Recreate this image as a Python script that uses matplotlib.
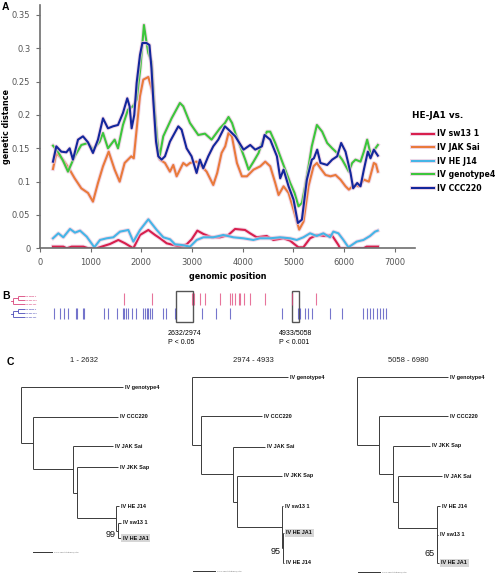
import matplotlib
matplotlib.use("Agg")
import matplotlib.pyplot as plt
import matplotlib.patheffects as pe
from matplotlib.patches import Rectangle

# ---- panel A: sliding window genetic distance vs HE-JA1 ----
red_pos = [256, 460, 526, 625, 855, 954, 1118, 1217, 1382, 1546, 1678, 1842, 1974, 2138, 2270, 2368, 2500,
           2632, 2763, 2895, 2993, 3105, 3224, 3388, 3553, 3717, 3849, 4046, 4145, 4276, 4474, 4605, 4803,
           4934, 5099, 5197, 5329, 5461, 5625, 5757, 5888, 5921, 6382, 6447, 6670]
red_val = [0.0025, 0.0025, 0, 0.0025, 0.0025, 0, 0, 0.0025, 0.0065, 0.0125, 0.0075, 0, 0.020, 0.0275, 0.020,
           0.015, 0.0075, 0.005, 0.0025, 0.006, 0.0135, 0.0265, 0.0215, 0.0165, 0.0165, 0.020, 0.029, 0.0275,
           0.0225, 0.0165, 0.0185, 0.0125, 0.015, 0.0115, 0.0015, 0.0015, 0.015, 0.020, 0.0185, 0.020, 0.005,
           0, 0, 0.0025, 0.0025]

orange_pos = [256, 322, 453, 585, 684, 815, 947, 1045, 1144, 1243, 1355, 1473, 1572, 1670, 1801, 1850, 1972,
              2038, 2137, 2202, 2235, 2270, 2301, 2367, 2466, 2564, 2630, 2696, 2827, 2893, 2959, 3090, 3189,
              3288, 3419, 3497, 3583, 3655, 3720, 3787, 3886, 3984, 4083, 4214, 4346, 4445, 4543, 4642, 4708,
              4806, 4905, 5003, 5115, 5200, 5298, 5397, 5464, 5535, 5634, 5733, 5832, 5930, 6029, 6095, 6194,
              6292, 6391, 6489, 6588, 6630, 6667]
orange_val = [0.119, 0.143, 0.133, 0.118, 0.105, 0.090, 0.083, 0.070, 0.098, 0.123, 0.145, 0.118, 0.100, 0.128,
              0.138, 0.135, 0.228, 0.253, 0.257, 0.240, 0.228, 0.190, 0.158, 0.133, 0.128, 0.115, 0.125, 0.108,
              0.128, 0.124, 0.128, 0.130, 0.123, 0.115, 0.095, 0.113, 0.143, 0.153, 0.173, 0.168, 0.128, 0.108,
              0.108, 0.118, 0.123, 0.130, 0.123, 0.098, 0.080, 0.093, 0.083, 0.058, 0.028, 0.040, 0.093, 0.123,
              0.128, 0.120, 0.110, 0.108, 0.110, 0.103, 0.093, 0.088, 0.095, 0.093, 0.103, 0.100, 0.128, 0.126,
              0.115]

cyan_pos = [256, 362, 460, 592, 690, 790, 921, 1072, 1184, 1316, 1447, 1579, 1743, 1842, 1974, 2138, 2303,
            2434, 2566, 2664, 2796, 2961, 3092, 3224, 3421, 3618, 3816, 4013, 4210, 4342, 4539, 4737, 4934,
            5066, 5197, 5329, 5461, 5592, 5724, 5789, 5888, 5987, 6086, 6250, 6382, 6513, 6612, 6664]
cyan_val = [0.015, 0.0225, 0.0165, 0.029, 0.0235, 0.0265, 0.0175, 0.0015, 0.0125, 0.015, 0.0165, 0.025, 0.0275,
            0.010, 0.0275, 0.0435, 0.0275, 0.0165, 0.0135, 0.006, 0.005, 0.0025, 0.0125, 0.0165, 0.0165, 0.020,
            0.0165, 0.015, 0.0125, 0.015, 0.015, 0.0165, 0.015, 0.0125, 0.0165, 0.0225, 0.0185, 0.0225, 0.0165,
            0.025, 0.0225, 0.0125, 0.0015, 0.010, 0.0125, 0.0185, 0.025, 0.0265]

green_pos = [256, 355, 450, 552, 684, 815, 947, 1045, 1177, 1243, 1341, 1473, 1539, 1637, 1736, 1834, 1907,
             1980, 2051, 2100, 2137, 2203, 2260, 2310, 2354, 2432, 2597, 2761, 2827, 2959, 3123, 3255, 3386,
             3550, 3650, 3720, 3790, 3853, 3951, 4050, 4116, 4214, 4313, 4379, 4477, 4543, 4642, 4740, 4839,
             4937, 5023, 5101, 5168, 5232, 5311, 5363, 5464, 5568, 5667, 5766, 5864, 5963, 6095, 6160, 6226,
             6325, 6391, 6456, 6535, 6600, 6667]
green_val = [0.154, 0.145, 0.132, 0.115, 0.138, 0.155, 0.158, 0.148, 0.160, 0.173, 0.150, 0.163, 0.150, 0.185,
             0.208, 0.213, 0.223, 0.270, 0.335, 0.310, 0.293, 0.280, 0.210, 0.165, 0.135, 0.168, 0.195, 0.218,
             0.213, 0.188, 0.170, 0.172, 0.163, 0.180, 0.188, 0.197, 0.188, 0.173, 0.153, 0.133, 0.118, 0.130,
             0.143, 0.158, 0.175, 0.175, 0.158, 0.138, 0.118, 0.098, 0.083, 0.063, 0.068, 0.093, 0.128, 0.153,
             0.185, 0.175, 0.158, 0.150, 0.143, 0.133, 0.115, 0.128, 0.133, 0.130, 0.145, 0.163, 0.138, 0.148,
             0.155]

blue_pos = [256, 322, 420, 519, 585, 650, 750, 848, 947, 1045, 1144, 1243, 1341, 1440, 1539, 1637, 1722, 1768,
            1808, 1860, 1907, 1973, 2020, 2100, 2160, 2200, 2235, 2290, 2334, 2400, 2466, 2564, 2729, 2794,
            2893, 2991, 3090, 3156, 3222, 3320, 3419, 3518, 3649, 3720, 3853, 4017, 4149, 4247, 4379, 4431,
            4543, 4675, 4740, 4806, 4905, 5003, 5089, 5168, 5266, 5365, 5404, 5470, 5535, 5667, 5766, 5864,
            5943, 6029, 6128, 6180, 6259, 6325, 6391, 6469, 6522, 6588, 6667]
blue_val = [0.130, 0.153, 0.145, 0.144, 0.150, 0.133, 0.163, 0.168, 0.159, 0.143, 0.163, 0.195, 0.180, 0.183,
            0.185, 0.203, 0.225, 0.213, 0.180, 0.200, 0.248, 0.290, 0.308, 0.308, 0.305, 0.270, 0.223, 0.160,
            0.138, 0.133, 0.138, 0.160, 0.183, 0.178, 0.150, 0.138, 0.113, 0.133, 0.120, 0.138, 0.153, 0.163,
            0.183, 0.178, 0.168, 0.148, 0.155, 0.148, 0.153, 0.170, 0.163, 0.138, 0.105, 0.118, 0.093, 0.073,
            0.038, 0.043, 0.103, 0.133, 0.135, 0.148, 0.128, 0.125, 0.133, 0.138, 0.158, 0.145, 0.113, 0.090,
            0.098, 0.093, 0.118, 0.145, 0.135, 0.148, 0.139]

series_names = ["IV sw13 1", "IV JAK Sai", "IV HE J14", "IV genotype4", "IV CCC220"]
series_colors = ["#d81f4d", "#e97a3b", "#45b5e6", "#3cc63c", "#13279c"]
series = [(red_pos, red_val), (orange_pos, orange_val), (cyan_pos, cyan_val),
          (green_pos, green_val), (blue_pos, blue_val)]

# ---- panel B: informative sites and breakpoints ----
pink_sites = [1617, 2157, 2959, 2998, 3110, 3209, 3505, 3702, 3748, 3800, 3880, 3899, 3978, 4097, 4393, 4919, 5398]
blue_sites = [237, 349, 434, 513, 665, 691, 809, 829, 1223, 1289, 1480, 1598, 1617, 1651, 1684, 1776, 1848,
              1993, 2026, 2059, 2091, 2124, 2157, 2387, 2433, 2617, 3156, 3426, 3702, 4722, 5037, 5083, 5181,
              5247, 5314, 5675, 5905, 6331, 6398, 6464, 6529, 6596, 6661, 6726, 6779]
breakpoints = [(2632, 2974, "P < 0.05"), (4933, 5058, "P < 0.001")]
mini_tree = (0.0, [(0.4, [("IV sw13 1", 1.0), ("IV HE JA1", 1.0)]), ("IV HE J14", 1.0)])

# ---- panel C: trees (node depth in substitutions/site) ----
tree_titles = ["1 - 2632", "2974 - 4933", "5058 - 6980"]
tree1 = (0.0, [("IV genotype4", 0.279),
               (0.034, [("IV CCC220", 0.265),
                        (0.141, [("IV JAK Sai", 0.252),
                                 (0.154, [("IV JKK Sap", 0.265),
                                          (0.259, [("IV HE J14", 0.267),
                                                   (0.265, [("IV sw13 1", 0.272), ("IV HE JA1", 0.272)])])])])])])
tree2 = (0.0, [("IV genotype4", 0.221),
               (0.019, [("IV CCC220", 0.160),
                        (0.093, [("IV JAK Sai", 0.167),
                                 (0.102, [("IV JKK Sap", 0.207),
                                          (0.206, [("IV sw13 1", 0.209),
                                                   (0.209, [("IV HE JA1", 0.212), ("IV HE J14", 0.212)])])])])])])
tree3 = (0.0, [("IV genotype4", 0.209),
               (0.051, [("IV CCC220", 0.209),
                        (0.081, [("IV JKK Sap", 0.167),
                                 (0.094, [("IV JAK Sai", 0.194),
                                          (0.183, [("IV HE J14", 0.190),
                                                   (0.184, [("IV sw13 1", 0.186), ("IV HE JA1", 0.189)])])])])])])
trees = [tree1, tree2, tree3]
bootstrap = ["99", "95", "65"]
leaf_rows = [[387, 417, 446, 467, 506, 523, 538],
             [377, 416, 447, 476, 506, 533, 563],
             [377, 416, 446, 476, 506, 535, 563]]

W, H = 498, 574


def px_box(x0, y0, x1, y1):
    return [x0 / W, 1 - y1 / H, (x1 - x0) / W, (y1 - y0) / H]


def draw_node(ax, node, rows, st, inner):
    if isinstance(node[0], str):
        name, depth = node
        y = next(rows)
        box = dict(boxstyle="square,pad=0.25", fc="#d6d6d6", ec="none") if name == "IV HE JA1" and st["hl"] else None
        ax.annotate(name, (depth, y), xytext=(st["gap"], 0), textcoords="offset pixels", ha="left",
                    va="center", fontsize=st["fs"], fontweight="bold", color=st["tc"],
                    family="Liberation Sans", bbox=box)
        return depth, y
    depth, children = node
    pts = [draw_node(ax, c, rows, st, inner) for c in children]
    for cd, cy in pts:
        ax.plot([depth, cd], [cy, cy], color=st["lc"], lw=st["lw"], solid_capstyle="butt")
    ax.plot([depth, depth], [pts[0][1], pts[-1][1]], color=st["lc"], lw=st["lw"], solid_capstyle="butt")
    y = (pts[0][1] + pts[-1][1]) / 2
    inner.append((depth, y))
    return depth, y


fig = plt.figure(figsize=(W / 100, H / 100), dpi=100)

# ---------- A ----------
ax = fig.add_axes(px_box(40, 5, 415, 248.3))
handles = []
for (xs, ys), name, col in zip(series, series_names, series_colors):
    ln, = ax.plot(xs, ys, color=col, lw=1.5, label=name,
                  path_effects=[pe.Stroke(linewidth=2.9, foreground="#ecc9df", alpha=0.7), pe.Normal()])
    handles.append(ln)
ax.set_xlim(0, 7400)
ax.set_ylim(0, 0.365)
ax.set_xticks(range(0, 7001, 1000))
ax.set_yticks([0, 0.05, 0.1, 0.15, 0.2, 0.25, 0.3, 0.35])
ax.set_yticklabels(["0", "0.05", "0.1", "0.15", "0.2", "0.25", "0.3", "0.35"])
for s in ["top", "right"]:
    ax.spines[s].set_visible(False)
for s in ["left", "bottom"]:
    ax.spines[s].set_color("#6e6e6e")
    ax.spines[s].set_linewidth(1.2)
ax.tick_params(labelsize=6, labelcolor="#555555", color="#6e6e6e", length=3, width=0.8, pad=4)
ax.set_xlabel("genomic position", fontsize=5.8, fontweight="bold", labelpad=3.5)
ax.set_ylabel("genetic distance", fontsize=5.8, fontweight="bold")
ax.yaxis.set_label_coords(-0.078, 0.5)
fig.text(412 / W, 1 - 115 / H, "HE-JA1 vs.", ha="left", va="center", fontsize=6.4, fontweight="bold")
fig.legend(handles=handles, loc="upper left", bbox_to_anchor=(412 / W, 1 - 129.5 / H), frameon=False,
           prop=dict(weight="bold", size=5.6), handlelength=2.8, handletextpad=0.4,
           labelspacing=0.58, borderaxespad=0, borderpad=0)

# ---------- B ----------
axb = fig.add_axes(px_box(42.3, 290, 417.5, 325))
axb.set_xlim(0, 7400)
axb.set_ylim(0, 1)
axb.axis("off")
axb.vlines(pink_sites, 0.56, 0.91, color="#e0467a", lw=0.8, alpha=0.75)
axb.vlines(blue_sites, 0.16, 0.49, color="#4848bb", lw=0.8, alpha=0.75)
for start, end, p in breakpoints:
    axb.add_patch(Rectangle((start, 0.086), end - start, 0.885, fill=False, ec="#555555", lw=1.0))
    axb.text((start + end) / 2, -0.15, f"{start}/{end}\n{p}", ha="center", va="top", multialignment="left",
             fontsize=5, family="Liberation Sans", linespacing=1.3, clip_on=False)

for rows, col in [([296, 300, 304], "#d9437a"), ([309.3, 313.3, 317.3], "#4a4ab8")]:
    axm = fig.add_axes(px_box(10, 290, 46, 322))
    axm.set_xlim(-0.25, 2.75)
    axm.set_ylim(322, 290)
    axm.axis("off")
    inner = []
    _, ry = draw_node(axm, mini_tree, iter(rows), dict(fs=1.6, tc=col, lc=col, lw=0.6, gap=1, hl=False), inner)
    axm.plot([-0.15, 0], [ry, ry], color=col, lw=0.6)

# ---------- C ----------
tree_left = [0, 166, 332]
root_px = [20.7, 192.3, 357.3]
sub_per_px = [0.00272, 0.0023, 0.0023]
bar_start = [0.034, 0.0023, 0.0023]
bar_row = [551.7, 571.0, 571.7]
title_px = [84, 253, 408]
for k, tree in enumerate(trees):
    axt = fig.add_axes(px_box(tree_left[k], 355, tree_left[k] + 166, 574))
    axt.set_xlim((tree_left[k] - root_px[k]) * sub_per_px[k], (tree_left[k] + 166 - root_px[k]) * sub_per_px[k])
    axt.set_ylim(574, 355)
    axt.axis("off")
    inner = []
    draw_node(axt, tree, iter(leaf_rows[k]), dict(fs=4.0, tc="#111111", lc="#3a3a3a", lw=0.7, gap=2, hl=True),
              inner)
    nx, ny = inner[0]
    axt.annotate(bootstrap[k], (nx, ny), xytext=(-3, -4), textcoords="offset pixels", ha="right", va="center",
                 fontsize=6.5, family="Liberation Sans", color="#111111")
    axt.plot([bar_start[k], bar_start[k] + 0.05], [bar_row[k], bar_row[k]], color="#333333", lw=0.7)
    axt.annotate("0.05 substitutions/site", (bar_start[k] + 0.05, bar_row[k]), xytext=(2, 0),
                 textcoords="offset pixels", ha="left", va="center", fontsize=1.6, color="#666666")
    fig.text(title_px[k] / W, 1 - 361 / H, tree_titles[k], ha="center", va="center", fontsize=5.5,
             family="Liberation Sans", color="#222222")

for lab, x, y in [("A", 5, 6.5), ("B", 6, 296), ("C", 10, 362)]:
    fig.text(x / W, 1 - y / H, lab, ha="center", va="center", fontsize=7.5, fontweight="bold",
             family="Liberation Sans")

fig.savefig("out.png", dpi=100)
